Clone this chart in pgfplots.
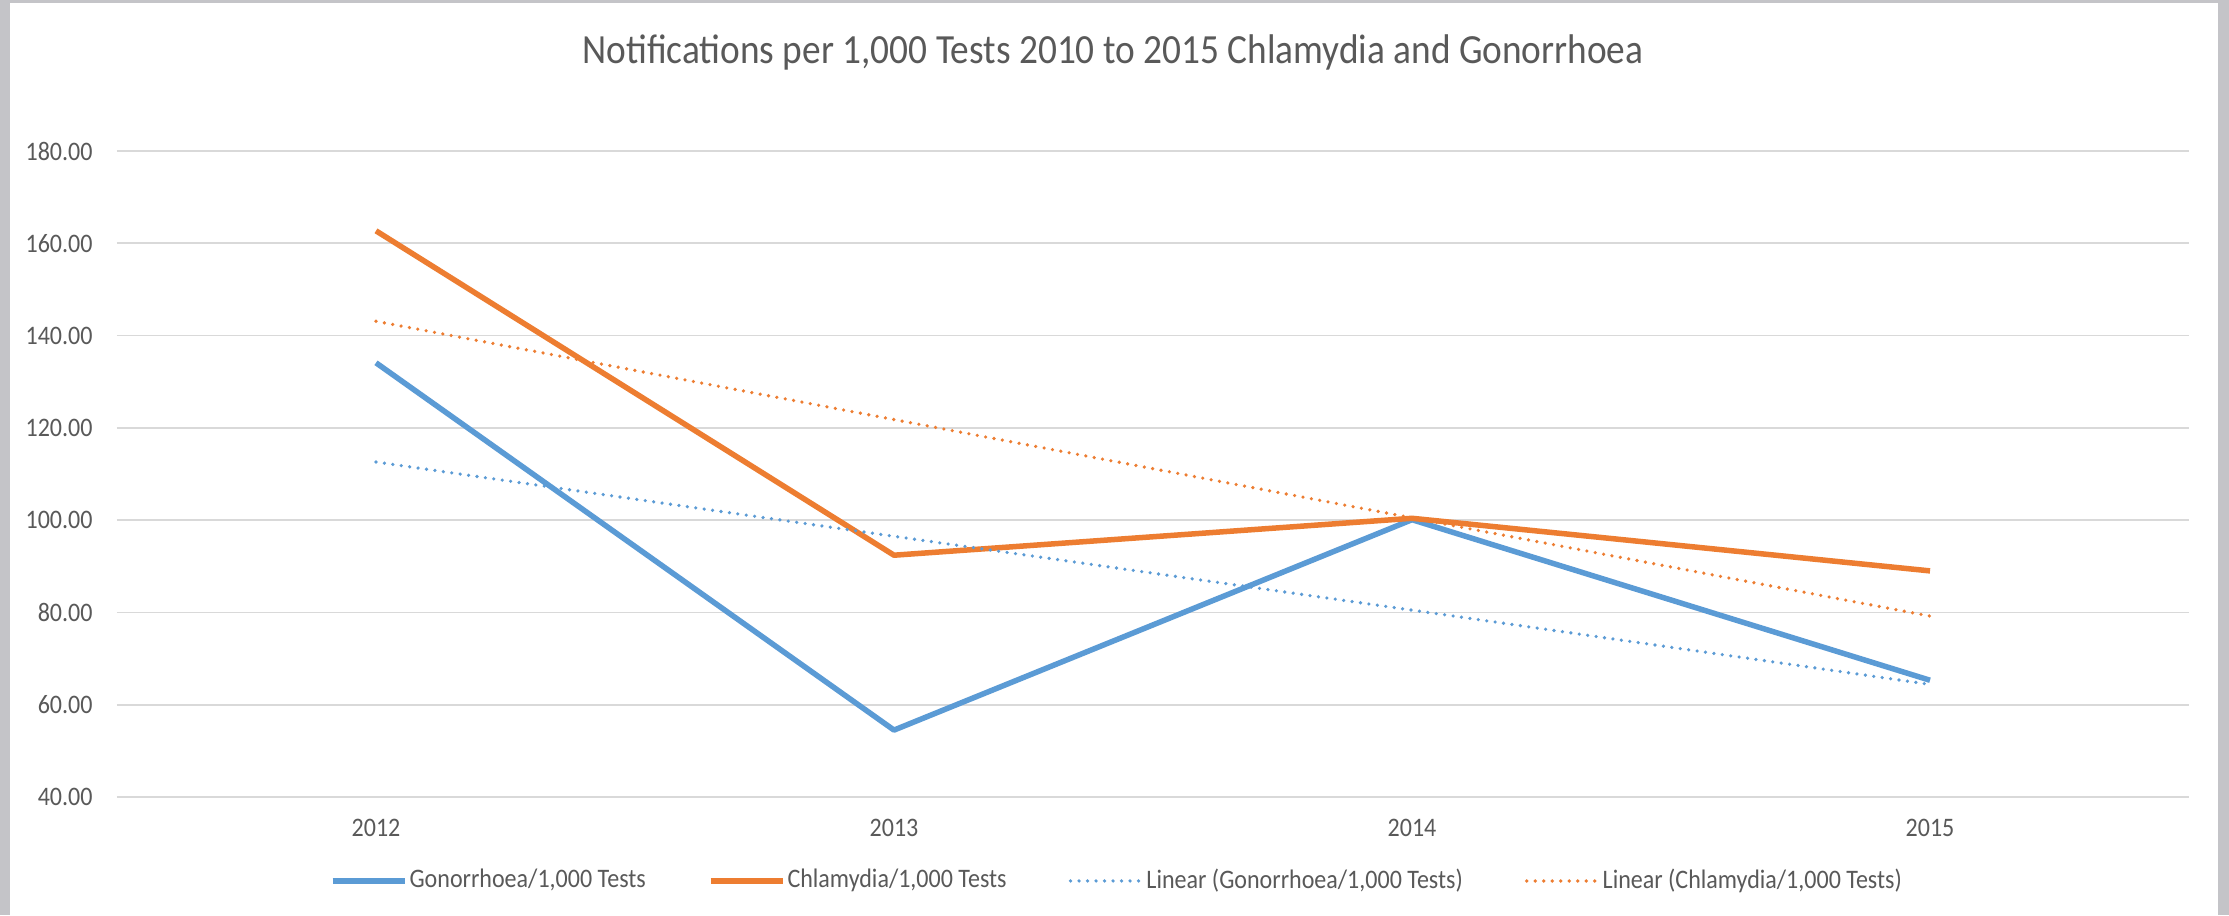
\documentclass[border=0pt]{standalone}
\usepackage{fontspec}
\setmainfont{Carlito}[FakeStretch=0.9]
\usepackage{pgfplots}
\pgfplotsset{compat=1.18}
\definecolor{gonblue}{HTML}{5B9BD5}
\definecolor{chlorange}{HTML}{ED7D31}
\definecolor{gridgray}{HTML}{D9D9D9}
\definecolor{textgray}{HTML}{595959}
\definecolor{framegray}{RGB}{196,196,200}

\begin{document}
\begin{tikzpicture}
% background frame of the screenshot
\fill[framegray] (0,0) rectangle (222.9mm,91.5mm);
\fill[white] (1.0mm,0) rectangle (221.8mm,91.2mm);

\begin{axis}[
  at={(11.7mm,11.8mm)}, anchor=south west,
  scale only axis,
  width=207.2mm, height=64.6mm,
  xmin=-0.5, xmax=3.5,
  ymin=40, ymax=180,
  xtick={0,1,2,3},
  xticklabels={2012,2013,2014,2015},
  ytick={40,60,...,180},
  ymajorgrids,
  grid style={gridgray, line width=0.5pt},
  axis line style={draw=none},
  major tick style={draw=none},
  /pgf/number format/assume math mode=true,
  /pgf/number format/fixed,
  /pgf/number format/fixed zerofill,
  /pgf/number format/precision=2,
  tick label style={font=\fontsize{7.6}{9}\selectfont, text=textgray},
  yticklabel style={xshift=-1.2mm},
  xticklabel style={yshift=-1.0mm},
  title={Notifications per 1,000 Tests 2010 to 2015 Chlamydia and Gonorrhoea},
  title style={font=\fontsize{11.8}{13}\selectfont, text=textgray,
    at={(0.5,1)}, anchor=center, yshift=7.7mm, xshift=-4mm},
  legend columns=4,
  legend style={at={(0.4826,-0.130)}, anchor=center, draw=none, fill=none,
    font=\fontsize{7.6}{9}\selectfont, text=textgray,
    nodes={inner sep=0.6pt},
    /tikz/every even column/.append style={column sep=6mm}},
  legend image code/.code={\draw[#1] (0mm,0mm) -- (7.2mm,0mm);},
]
\addplot[gonblue, line width=0.55mm, line join=round] coordinates {
  (0,134.1) (1,54.5) (2,100.1) (3,65.3)};
\addlegendentry{Gonorrhoea/1,000 Tests}
\addplot[chlorange, line width=0.55mm, line join=round] coordinates {
  (0,162.7) (1,92.4) (2,100.4) (3,89.0)};
\addlegendentry{Chlamydia/1,000 Tests}
\addplot[gonblue, line width=0.36mm, line cap=round, dash pattern=on 0pt off 0.85mm] coordinates {
  (0,112.6) (1,96.5) (2,80.5) (3,64.4)};
\addlegendentry{Linear (Gonorrhoea/1,000 Tests)}
\addplot[chlorange, line width=0.36mm, line cap=round, dash pattern=on 0pt off 0.85mm] coordinates {
  (0,143.1) (1,121.8) (2,100.5) (3,79.2)};
\addlegendentry{Linear (Chlamydia/1,000 Tests)}
\end{axis}
\pgfresetboundingbox
\useasboundingbox (0,0) rectangle (222.9mm,91.5mm);
\end{tikzpicture}
\end{document}
